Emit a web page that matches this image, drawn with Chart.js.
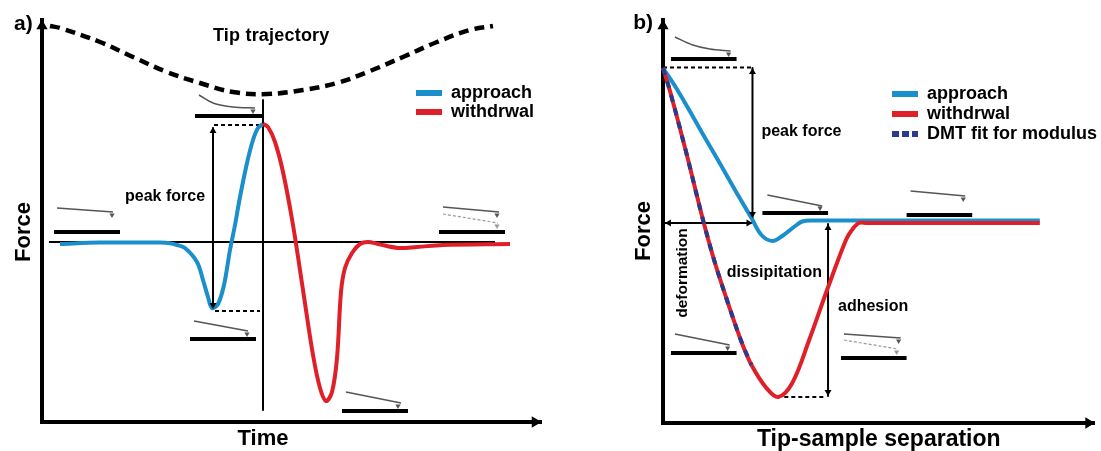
<!DOCTYPE html>
<html><head><meta charset="utf-8">
<style>html,body{margin:0;padding:0;background:#fff;width:1101px;height:451px;overflow:hidden}canvas{position:absolute;top:0}</style>
<script src="https://cdn.jsdelivr.net/npm/chart.js@4/dist/chart.umd.min.js"></script>
</head><body>
<canvas id="a" width="560" height="451" style="left:0"></canvas>
<canvas id="b" width="481" height="451" style="left:620px"></canvas>
<script>
/* ---------- panel a: force against time (arbitrary units) ---------- */
const tipTime   = [8,18,58,91,125,158,191,225,261,295,328,361,395,428,451];
const tipHeight = [216,214,200,185,170,159,150,148,152,159,171,185,200,212,216];
const approachTimeA  = [18,58,100,118,128,135,143,155,161,166,170,176,182,188,193,198,205,211,216,221];
const approachForceA = [-2,-0.5,-0.5,-0.5,-1.3,-3,-6,-20,-38,-55,-66,-62,-43,-8,17,45,79,102,114,118];
const withdrawTimeA  = [221,226,233,241,251,261,271,278,284,290,295,299,303,310,318,326,336,356,375,401,468];
const withdrawForceA = [118,115,100,70,17,-48,-113,-146,-159,-150,-116,-50,-26,-11,-2,0,-2,-6,-5,-3,-2];
/* each entry: [x values, y values] */
const guidesA = [[[7,453],[0,0]],[[221,221],[142,-168]],[[171,171],[114,-66]]];
const dashedA = [[[172,221],[117,117]],[[173,218],[-69,-69]]];
const surfacesA = [[[12,78],[10,10]],[[153,220],[126,126]],[[148,214],[-97,-97]],[[300,366],[-169,-169]],[[397,463],[10,10]]];
const leversA = [[[15,71],[34,30]],[[157,171,191,213],[147,139,135,134]],[[152,206],[-79,-89]],[[304,359],[-150,-161]],[[401,457],[35,30]]];
const leverTipsA = [[70,211,205,356,455],[27,131,-92,-164,27]];
const ghostLeversA = [[[401,456],[28,19]]];
const ghostTipsA = [[455],[16]];
const arrowUpA = [[171],[111]];
const arrowDownA = [[171],[-63]];
const axisHeadUpA = [[0],[216]];
const axisHeadRightA = [[493],[-180]];

/* ---------- panel b: force against tip-sample separation ---------- */
const approachSepB   = [0,12,24,40,57,73,89,99,110,120,133,140,150,197,379];
const approachForceB = [154,136,116,88,59,31,4,-13,-19,-14,-4,0.5,1.5,1.5,1.5];
const withdrawSepB   = [0,7,24,40,52,65,79,89,104,116,130,147,165,184,190,197,205,215,379];
const withdrawForceB = [154,131,67,3,-40,-80,-120,-143,-166,-175,-161,-118,-68,-18,-8,-1,-1,-1,-1];
const dmtSepB   = [0,7,24,40,52,65,79,89];
const dmtForceB = [154,131,67,3,-40,-80,-120,-143];
const guidesB = [[[90,90],[154,4]],[[2,89],[-1,-1]],[[166,166],[-2,-174]]];
const dashedB = [[[0,89],[154.5,154.5]],[[122,163],[-175,-175]]];
const surfacesB = [[[8,74],[163,163]],[[100,166],[9,9]],[[245,311],[7,7]],[[8,74],[-131,-131]],[[179,245],[-136,-136]]];
const leversB = [[[12,30,47,68],[185,177,173,171]],[[105,160],[27,16]],[[249,304],[31,26]],[[12,67],[-112,-123]],[[182,239],[-112,-116]]];
const leverTipsB = [[66,158,302,65,237],[168,14,23,-126,-119]];
const ghostLeversB = [[[182,236],[-118,-127]]];
const ghostTipsB = [[235],[-130]];
const arrowUpB = [[90,166],[150,-6]];
const arrowDownB = [[90,166],[8,-170]];
const arrowRightB = [[86],[-1]];
const arrowLeftB = [[6],[-1]];
const axisHeadUpB = [[0],[196]];
const axisHeadRightB = [[428],[-201]];

const legendNames = ['approach','withdrwal','DMT fit for modulus'];
const colors = {approach:'#1b8fcb', withdraw:'#df2029', dmt:'#2b3a8e', lever:'#555', ghost:'#999'};
const FONT = '"Liberation Sans", Arial, sans-serif';

const xy = (xs, ys) => xs.map((x,i) => ({x, y:ys[i]}));
const line = ([xs,ys], o) => Object.assign({data:xy(xs,ys), showLine:true, pointRadius:0, clip:false, order:6,
  borderColor:'#000', borderWidth:2, tension:0, borderCapStyle:'butt', borderJoinStyle:'round'}, o||{});
const pts = ([xs,ys], rot, r, color) => ({data:xy(xs,ys), showLine:false, clip:false, order:0,
  pointStyle:'triangle', pointRotation:rot, pointRadius:r, pointBorderWidth:0,
  pointBackgroundColor:color||'#000', pointBorderColor:color||'#000'});
const curve = (label, xs, ys, color, order, extra) => Object.assign({label, data:xy(xs,ys), showLine:true, pointRadius:0, clip:false, order,
  borderColor:color, backgroundColor:color, borderWidth:4, tension:0.35, borderJoinStyle:'round'}, extra||{});

function decor(g){
  return [
    ...g.guides.map(s => line(s)),
    ...g.dashed.map(s => line(s,{borderWidth:2,borderDash:[4,3]})),
    ...g.surfaces.map(s => line(s,{borderWidth:4})),
    ...g.levers.map(s => line(s,{borderColor:colors.lever,borderWidth:1.5,tension:0.35})),
    ...g.ghosts.map(s => line(s,{borderColor:colors.ghost,borderWidth:1.2,borderDash:[3,2]})),
    pts(g.tips,180,3,colors.lever), pts(g.ghostTips,180,3,colors.ghost)
  ];
}

const textPlugin = {
  id:'texts',
  afterDraw(chart,_,opts){
    const c = chart.ctx; c.save(); c.fillStyle='#000'; c.textBaseline='middle';
    (opts.items||[]).forEach(t => {
      c.save();
      c.font = `bold ${t.size}px ${FONT}`;
      c.textAlign = t.align||'left';
      if ('letterSpacing' in c) c.letterSpacing = (t.ls||0)+'px';
      c.translate(chart.scales.x.getPixelForValue(t.x), chart.scales.y.getPixelForValue(t.y));
      if (t.rot) c.rotate(t.rot*Math.PI/180);
      c.fillText(t.text,0,0);
      c.restore();
    });
    c.restore();
  }
};
const legendPlacer = {
  id:'legendPlacer',
  afterLayout(chart,_,opts){
    const l = chart.legend;
    l.left = opts.left; l.top = opts.top; l.right = opts.left+300; l.bottom = opts.top+120;
  }
};
function legendLabels(chart){
  return chart.data.datasets.map((d,i)=>({text:d.label,fillStyle:d.legendFill||d.borderColor,strokeStyle:'transparent',lineWidth:0,datasetIndex:i,hidden:false,fontColor:'#000'}))
    .filter(it => legendNames.includes(it.text));
}
function options(cfg){
  return {
    responsive:false, animation:false, devicePixelRatio:1, events:[],
    layout:{padding:{left:0,top:cfg.top,right:cfg.right,bottom:0}},
    scales:{
      x:{type:'linear',min:0,max:cfg.xMax,afterFit:s=>{s.height=cfg.xH},
        grid:{display:false,drawTicks:false},ticks:{display:false},border:{display:true,color:'#000',width:4},
        title:{display:!!cfg.xTitle,text:cfg.xTitle,color:'#000',font:{family:FONT,size:cfg.xTitleSize||23,weight:'bold',lineHeight:1},padding:{top:0,bottom:cfg.xTitlePad||0}}},
      y:{type:'linear',min:cfg.yMin,max:cfg.yMax,afterFit:s=>{s.width=cfg.yW},
        grid:{display:false,drawTicks:false},ticks:{display:false},border:{display:true,color:'#000',width:4},
        title:{display:false}}
    },
    plugins:{
      tooltip:{enabled:false},
      legend:{display:true,position:'chartArea',align:'start',labels:{boxWidth:26,boxHeight:6,padding:cfg.lp,color:'#000',font:{family:FONT,size:18,weight:'bold'},generateLabels:legendLabels}},
      legendPlacer:{left:cfg.lx,top:cfg.ly},
      texts:{items:cfg.texts}
    }
  };
}

new Chart(document.getElementById('a'),{
  type:'scatter',
  data:{datasets:[
    curve('approach',approachTimeA,approachForceA,colors.approach,3),
    curve('withdrwal',withdrawTimeA,withdrawForceA,colors.withdraw,2),
    line([tipTime,tipHeight],{label:'Tip trajectory',borderWidth:4.5,borderDash:[10,6],tension:0.4}),
    ...decor({guides:guidesA,dashed:dashedA,surfaces:surfacesA,levers:leversA,ghosts:ghostLeversA,tips:leverTipsA,ghostTips:ghostTipsA}),
    pts(axisHeadUpA,0,6.5), pts(arrowUpA,0,4), pts(arrowDownA,180,4), pts(axisHeadRightA,90,6.5)
  ]},
  options:options({top:20,right:19,xMax:499,yMin:-180,yMax:222,xH:29,yW:42,lp:1,lx:415,ly:83,
    texts:[
      {text:'a)',x:-28,y:218,size:21},
      {text:'Tip trajectory',x:171,y:206,size:18,ls:0.2},
      {text:'peak force',x:83,y:45,size:16},
      {text:'Time',x:221,y:-197,size:22,align:'center'},
      {text:'Force',x:-18,y:10,size:22,rot:-90,align:'center'}
    ]}),
  plugins:[textPlugin,legendPlacer]
});

const dmtPat = (()=>{const p=document.createElement('canvas');p.width=10;p.height=10;const c=p.getContext('2d');c.fillStyle=colors.dmt;c.fillRect(2,0,7,10);return p;})();
const bCtx = document.getElementById('b').getContext('2d');
new Chart(bCtx,{
  type:'scatter',
  data:{datasets:[
    curve('approach',approachSepB,approachForceB,colors.approach,3),
    curve('withdrwal',withdrawSepB,withdrawForceB,colors.withdraw,2),
    curve('DMT fit for modulus',dmtSepB,dmtForceB,colors.dmt,1,{borderDash:[7,7],legendFill:bCtx.createPattern(dmtPat,'repeat')}),
    ...decor({guides:guidesB,dashed:dashedB,surfaces:surfacesB,levers:leversB,ghosts:ghostLeversB,tips:leverTipsB,ghostTips:ghostTipsB}),
    pts(arrowUpB,0,4), pts(arrowDownB,180,4), pts(arrowRightB,90,4), pts(arrowLeftB,270,4),
    pts(axisHeadUpB,0,6.5), pts(axisHeadRightB,90,6.5)
  ]},
  options:options({top:20,right:4,xMax:434,yMin:-201,yMax:202,xH:28,yW:43,lp:2,lx:270,ly:83,xTitle:'Tip-sample separation',xTitlePad:0,
    texts:[
      {text:'b)',x:-30,y:199,size:21},
      {text:'Force',x:-19,y:-9,size:22,rot:-90,align:'center'},
      {text:'peak force',x:99,y:90,size:16},
      {text:'deformation',x:20,y:-51,size:15.5,rot:-90,align:'center'},
      {text:'dissipitation',x:64,y:-51,size:16,ls:0.1},
      {text:'adhesion',x:176,y:-85,size:16}
    ]}),
  plugins:[textPlugin,legendPlacer]
});
</script>
</body></html>
